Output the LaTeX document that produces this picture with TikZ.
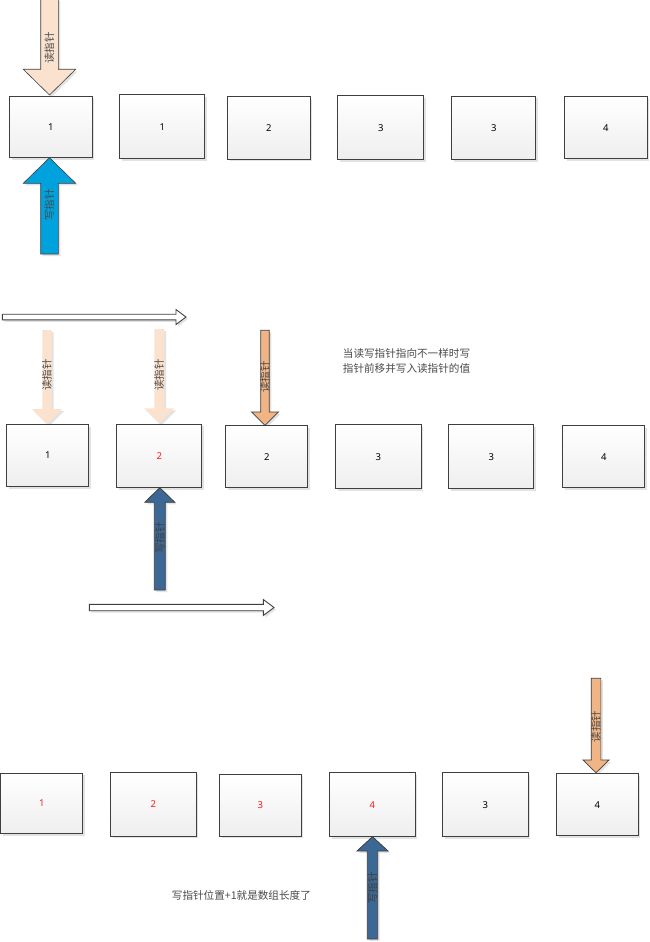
\documentclass[tikz,border=0pt]{standalone}
\usepackage{fontspec}
\newfontfamily\cjk{Noto Sans CJK SC}
\newfontfamily\numfont{Noto Sans}
\definecolor{edge}{HTML}{3F3F3F}
\definecolor{peachlight}{HTML}{FAE2CF}
\definecolor{peachdark}{HTML}{F1B585}
\definecolor{bluebright}{HTML}{00A2DE}
\definecolor{bluedark}{HTML}{3C6896}
\definecolor{shadowgray}{HTML}{E2E2E2}
\definecolor{txtgray}{HTML}{4A4A4A}
\definecolor{numred}{HTML}{FF1A1A}
% vertical block arrow: #1 style, #2 xc, #3 y tail, #4 y head base, #5 y tip, #6 shaft width, #7 head width
\newcommand\blockarrow[7]{%
  \fill[shadowgray] ($(#2-#6/2+2,#3+2)$) -- ($(#2+#6/2+2,#3+2)$) -- ($(#2+#6/2+2,#4+2)$) -- ($(#2+#7/2+2,#4+2)$) -- ($(#2+2,#5+2)$) -- ($(#2-#7/2+2,#4+2)$) -- ($(#2-#6/2+2,#4+2)$) -- cycle;
  \path[#1] ($(#2-#6/2,#3)$) -- ($(#2+#6/2,#3)$) -- ($(#2+#6/2,#4)$) -- ($(#2+#7/2,#4)$) -- ($(#2,#5)$) -- ($(#2-#7/2,#4)$) -- ($(#2-#6/2,#4)$) -- cycle;}
\newcommand\hollowarrow[6]{% #1 x start, #2 x head base, #3 x tip, #4 y center, #5 shaft half, #6 head half
  \fill[shadowgray] ($(#1+2,#4-#5+2)$) -- ($(#2+2,#4-#5+2)$) -- ($(#2+2,#4-#6+2)$) -- ($(#3+2,#4+2)$) -- ($(#2+2,#4+#6+2)$) -- ($(#2+2,#4+#5+2)$) -- ($(#1+2,#4+#5+2)$) -- cycle;
  \draw[edge, fill=white, line width=0.9pt, line join=miter] ($(#1,#4-#5)$) -- ($(#2,#4-#5)$) -- ($(#2,#4-#6)$) -- (#3,#4) -- ($(#2,#4+#6)$) -- ($(#2,#4+#5)$) -- ($(#1,#4+#5)$) -- cycle;}
\usetikzlibrary{calc}
\tikzset{
  cell/.style={draw=edge, line width=0.9pt, top color=white, bottom color=gray!13, anchor=north west,
    inner sep=0pt, font=\numfont\fontsize{9.5}{11}\selectfont, text=black},
  redtxt/.style={text=numred},
  shadowbox/.style={fill=shadowgray},
  arrowlabel/.style={rotate=90, font=\cjk\fontsize{10.5}{12}\selectfont, text=txtgray, inner sep=0pt},
  note/.style={font=\cjk\fontsize{10.6}{14.7}\selectfont, text=txtgray, inner sep=0pt, align=left},
  readlight/.style={fill=peachlight, draw=edge, line width=0.6pt},
  readlightnb/.style={fill=peachlight},
  readdark/.style={fill=peachdark, draw=edge, line width=0.7pt},
  writebright/.style={fill=bluebright, draw=edge, line width=0.6pt},
  writedark/.style={fill=bluedark, draw=edge, line width=0.8pt},
}
\newcommand\cellat[7]{% #1 name, #2 x1, #3 y1, #4 x2, #5 y2, #6 text, #7 extra style
  \fill[shadowbox] (#2+2.5,#3+2.5) rectangle (#4+2.5,#5+2.5);
  \node[cell, #7, minimum width=#4-#2, minimum height=#5-#3] (#1) at (#2,#3) {#6};}
\begin{document}
\begin{tikzpicture}[x=1pt, y=-1pt]
\useasboundingbox (0,0) rectangle (649,942);
\fill[white] (0,0) rectangle (649,942);

% ---------- row 1 ----------
\blockarrow{readlight}{49.5}{-1}{69.3}{95}{17.6}{52.4}
\node[arrowlabel] (r1read) at (49.5,48) {读指针};
\cellat{a1}{9.3}{95.7}{91.7}{157.3}{1}{}
\cellat{a2}{119.3}{94.3}{204.3}{158.3}{1}{}
\cellat{a3}{227.3}{96.3}{309.7}{158.7}{2}{}
\cellat{a4}{337.3}{95.3}{423.3}{159.3}{3}{}
\cellat{a5}{451.3}{95.7}{535.3}{159}{3}{}
\cellat{a6}{564.3}{96.3}{646.7}{158.3}{4}{}
\blockarrow{writebright}{49.5}{254}{183.3}{157.7}{17.6}{52.4}
\node[arrowlabel] (r1write) at (49.5,205) {写指针};

% ---------- row 2 ----------
\hollowarrow{2.3}{176}{186}{317}{2.8}{7.5}
\blockarrow{readlightnb}{47}{330}{409}{424.3}{9.4}{30}
\node[arrowlabel] (r2read1) at (47,375) {读指针};
\blockarrow{readlightnb}{159.2}{329}{408.3}{423.3}{9.7}{30}
\node[arrowlabel] (r2read2) at (159.2,375) {读指针};
\blockarrow{readdark}{265}{330.3}{412}{425.3}{8.6}{27}
\node[arrowlabel] (r2read3) at (265,377) {读指针};
\node[note, anchor=west] (note1) at (342.7,361.3) {当读写指针指向不一样时写\\指针前移并写入读指针的值};
\cellat{b1}{6.3}{424.3}{88.3}{486}{1}{}
\cellat{b2}{116.3}{423.7}{201.3}{487.3}{2}{redtxt}
\cellat{b3}{225.3}{425.3}{307.3}{487.3}{2}{}
\cellat{b4}{335.3}{424.3}{420.7}{488.3}{3}{}
\cellat{b5}{448.3}{424.3}{533.3}{488.3}{3}{}
\cellat{b6}{562.3}{425.3}{644.3}{487}{4}{}
\blockarrow{writedark}{159.8}{590}{502.3}{487.7}{11}{30}
\node[arrowlabel, text=black!75] (r2write) at (159.8,538) {写指针};
\hollowarrow{89.3}{263.3}{274}{607.5}{3.2}{8}

% ---------- row 3 ----------
\blockarrow{readdark}{596}{678.3}{760}{772.7}{9.7}{26}
\node[arrowlabel] (r3read) at (596,726.7) {读指针};
\cellat{c1}{0.3}{772.7}{82.3}{833.3}{1}{redtxt}
\cellat{c2}{110.3}{771.7}{195.7}{835.7}{2}{redtxt}
\cellat{c3}{219.3}{773.7}{300.7}{835.7}{3}{redtxt}
\cellat{c4}{329.3}{772.3}{414.7}{836.3}{4}{redtxt}
\cellat{c5}{442.3}{772.3}{527.7}{836.3}{3}{}
\cellat{c6}{556.3}{773.3}{637.7}{835.3}{4}{}
\blockarrow{writedark}{372.5}{939}{851}{836.7}{10.4}{31}
\node[arrowlabel, text=black!75] (r3write) at (372.5,888) {写指针};
\node[note, anchor=west] (note2) at (171.7,895) {写指针位置+1就是数组长度了};
\end{tikzpicture}
\end{document}
